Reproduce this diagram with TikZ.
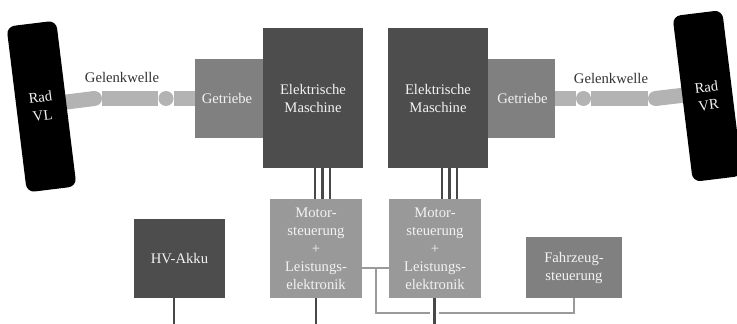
\documentclass[tikz,border=0pt]{standalone}
\usepackage{fontspec}
\setmainfont{Liberation Serif}
\usetikzlibrary{calc}
\definecolor{boxdark}{HTML}{4D4D4D}
\definecolor{boxmid}{HTML}{808080}
\definecolor{boxlight}{HTML}{999999}
\definecolor{shaftc}{HTML}{B3B3B3}
\definecolor{txtlight}{HTML}{F2F2F2}
\definecolor{txtdark}{HTML}{333333}
\definecolor{powerc}{HTML}{484848}
\definecolor{sigc}{HTML}{9A9A9A}
\begin{document}
\begin{tikzpicture}[x=1pt,y=-1pt,
  font=\fontsize{14.67}{18}\selectfont,
  blk/.style={rectangle,inner sep=0pt,text=txtlight,align=center},
  wheel/.style={blk,fill=black,minimum width=50pt,minimum height=167pt,rounded corners=8pt,rotate=7},
  shaft/.style={draw=shaftc,line width=15pt},
  joint/.style={circle,fill=shaftc,inner sep=0pt,minimum size=15pt},
  power/.style={draw=powerc,line width=2.6pt},
  sig/.style={draw=sigc,line width=2pt},
  lbl/.style={text=txtdark,inner sep=0pt}]
\useasboundingbox (0,0) rectangle (737,324);

% shafts left
\coordinate (sl0) at (60,102.8);
\node[joint] (jl1) at (94.5,98.5) {};
\node[joint] (jl2) at (166,98.5) {};
\draw[shaft] (sl0) -- (jl1.center);
\draw[shaft] (jl1.east) -- (jl2.west);
\draw[shaft] (jl2.east) -- (200,98.5);
\node[lbl] (gwl) at (122,77) {Gelenkwelle};

% shafts right
\coordinate (sr0) at (692,94.2);
\node[joint] (jr1) at (583.5,98.5) {};
\node[joint] (jr2) at (655.5,98.5) {};
\draw[shaft] (550,98.5) -- (jr1.west);
\draw[shaft] (jr1.east) -- (jr2.west);
\draw[shaft] (jr2.center) -- (sr0);
\node[lbl] (gwr) at (611,78) {Gelenkwelle};

% wheels
\node[wheel] (radvl) at (41.5,106.5) {Rad\\VL};
\node[wheel] (radvr) at (707.5,96) {Rad\\VR};

% gearboxes and machines
\node[blk,fill=boxmid,minimum width=68pt,minimum height=79pt] (gl) at (229,98.5) {Getriebe\hspace*{4pt}};
\node[blk,fill=boxmid,minimum width=67pt,minimum height=79pt] (gr) at (521.5,98.5) {\hspace*{2pt}Getriebe};
\node[blk,fill=boxdark,minimum width=100pt,minimum height=140pt] (eml) at (313,98) {Elektrische\\Maschine};
\node[blk,fill=boxdark,minimum width=100pt,minimum height=140pt] (emr) at (438,98) {Elektrische\\Maschine};

% lower boxes
\node[blk,fill=boxlight,minimum width=92pt,minimum height=99pt] (msl) at (316,248.5) {Motor-\\steuerung\\+\\Leistungs-\\elektronik};
\node[blk,fill=boxlight,minimum width=92pt,minimum height=99pt] (msr) at (435,248.5) {Motor-\\steuerung\\+\\Leistungs-\\elektronik};
\node[blk,fill=boxdark,minimum width=91pt,minimum height=79pt] (hv) at (179.5,258.5) {HV-Akku};
\node[blk,fill=boxmid,minimum width=96pt,minimum height=61pt] (fs) at (574,267.5) {Fahrzeug-\\steuerung};

% three-phase lines
\foreach \xx in {315,322.5,330} {
  \draw[power,line width=2.4pt] (\xx,0 |- eml.south) -- (\xx,0 |- msl.north);
}
\foreach \xx in {442,449.5,457} {
  \draw[power,line width=2.4pt] (\xx,0 |- emr.south) -- (\xx,0 |- msr.north);
}

% signal lines
\coordinate (sj) at (376,268);
\coordinate (sb) at (376,312.5);
\draw[sig] (msl.east |- sj) -- (msr.west |- sj);
\draw[sig] (sj) -- (sb) -| (fs.south);

% power lines to bottom
\coordinate (hvb) at (174,324);
\coordinate (mslb) at (316,324);
\coordinate (msrb) at (434.5,324);
\draw[power] (hv.south -| hvb) -- (hvb);
\draw[power] (msl.south) -- (mslb);
\draw[power,preaction={draw=white,line width=9pt}] (msr.south -| msrb) -- (msrb);
\end{tikzpicture}
\end{document}
